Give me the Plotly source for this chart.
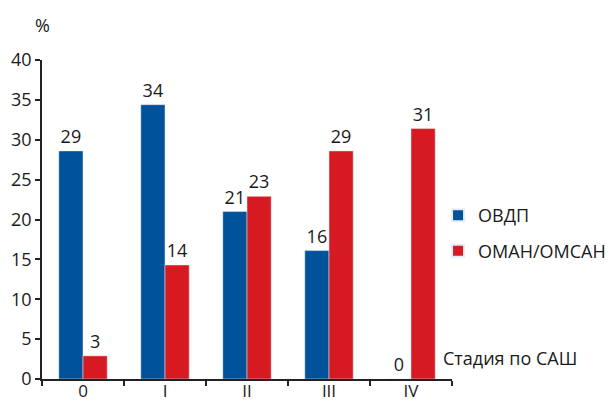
import plotly.graph_objects as go

categories = ["0", "I", "II", "III", "IV"]
ovdp = [28.6, 34.4, 21.0, 16.1, 0]
oman = [2.9, 14.3, 22.9, 28.6, 31.4]
series_names = ["ОВДП", "ОМАН/ОМСАН"]
y_ticks = [0, 5, 10, 15, 20, 25, 30, 35, 40]

BLUE = "#00529B"
RED = "#D71A21"
FONT = "Open Sans, Noto Sans, sans-serif"
TXT = "#1a1a1a"
FS = 18

fig = go.Figure()
fig.add_trace(go.Bar(x=categories, y=ovdp, name=series_names[0], marker_color=BLUE,
                     texttemplate="%{y:.0f}", textposition="outside", cliponaxis=False,
                     textfont=dict(size=FS, color=TXT, family=FONT), legendgroup="a"))
fig.add_trace(go.Bar(x=categories, y=oman, name=series_names[1], marker_color=RED,
                     texttemplate="%{y:.0f}", textposition="outside", cliponaxis=False,
                     textfont=dict(size=FS, color=TXT, family=FONT), legendgroup="b"))

fig.update_layout(
    width=616, height=401,
    margin=dict(l=42, r=164, t=60, b=22, autoexpand=False),
    paper_bgcolor="white", plot_bgcolor="white",
    barmode="group", bargap=0.41, bargroupgap=0,
    font=dict(family=FONT, size=FS, color=TXT),
    showlegend=True,
    legend=dict(x=0.966, xanchor="left", y=0.57, yanchor="top",
                bgcolor="rgba(0,0,0,0)", font=dict(size=FS, color=TXT),
                tracegroupgap=9, itemsizing="constant"),
    xaxis=dict(showline=True, linecolor="#222", linewidth=1.5, ticks="outside",
               tickson="boundaries", ticklen=5, tickcolor="#222", tickwidth=1.5,
               range=[-0.5, 4.5], showgrid=False, tickfont=dict(size=17), automargin=False,
               ticklabelstandoff=-4),
    yaxis=dict(showline=True, linecolor="#222", linewidth=1.5, ticks="outside",
               ticklen=5, tickcolor="#222", tickwidth=1.5, range=[0, 40],
               tickvals=y_ticks, showgrid=False, zeroline=False, tickfont=dict(size=FS),
               automargin=False),
    annotations=[
        dict(text="%", xref="paper", yref="paper", x=0, y=1, yshift=35,
             xanchor="center", yanchor="middle", showarrow=False, font=dict(size=FS)),
        dict(text="Стадия по САШ", xref="paper", yref="y", x=0.973, y=2.6,
             xanchor="left", yanchor="middle", showarrow=False, font=dict(size=FS)),
    ],
)

fig.write_html("out.html")
